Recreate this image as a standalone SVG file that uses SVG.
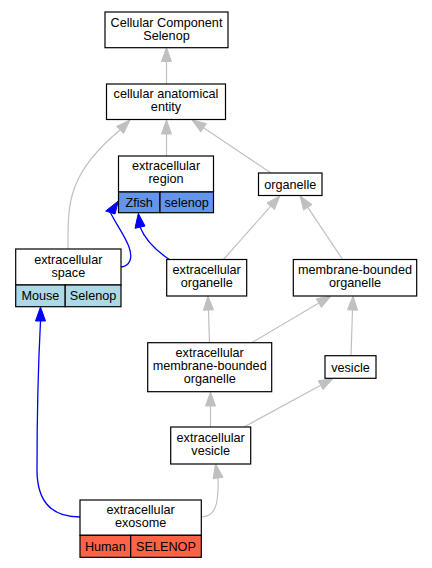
<svg xmlns="http://www.w3.org/2000/svg" width="432" height="568" viewBox="0 0 432 568">
<style>
.n{fill:#fff;stroke:#000;stroke-width:1.2}
.t{font-family:"Liberation Sans",Arial,sans-serif;font-size:12.67px;text-anchor:middle;fill:#000}
.g{fill:none;stroke:#c0c0c0;stroke-width:1.2}
.ga{fill:#c0c0c0;stroke:#c0c0c0;stroke-width:1}
.b{fill:none;stroke:#0000ff;stroke-width:1.3}
.ba{fill:#0000ff;stroke:#0000ff;stroke-width:1}
.zf{fill:#6495ed;stroke:#000;stroke-width:1.2}
.ms{fill:#add8e6;stroke:#000;stroke-width:1.2}
.hu{fill:#ff6347;stroke:#000;stroke-width:1.2}
</style>
<rect width="432" height="568" fill="#fff"/>
<g id="edges">
<path class="g" d="M166.5,84 L166.5,61.5"/>
<polygon class="ga" points="166.5,47.5 161.5,61.5 171.5,61.5"/>
<path class="g" d="M166.5,156 L166.5,134"/>
<polygon class="ga" points="166.5,120 161.5,134 171.5,134"/>
<path class="g" d="M68,249 C68,205 66,175 120,130"/>
<polygon class="ga" points="130,120 116.6,126.4 123.6,133.4"/>
<path class="g" d="M271,173 L203.6,127.8"/>
<polygon class="ga" points="192,120 206.4,123.6 200.8,132"/>
<path class="g" d="M223,260 L270.7,206.2"/>
<polygon class="ga" points="280,195.7 274.4,209.5 267,202.9"/>
<path class="g" d="M343,260 L307.8,207.3"/>
<polygon class="ga" points="300,195.7 312,204.5 303.6,210.1"/>
<path class="g" d="M209.5,342.5 L208.45,310"/>
<polygon class="ga" points="208,296 213.45,309.8 203.45,310.2"/>
<path class="g" d="M252,342.5 L318.9,303.1"/>
<polygon class="ga" points="331,296 321.4,307.4 316.4,298.8"/>
<path class="g" d="M351,355.5 L352.5,310"/>
<polygon class="ga" points="353,296 357.5,310.2 347.5,309.8"/>
<path class="g" d="M210.5,427 L210.5,406"/>
<polygon class="ga" points="210.5,392 205.5,406 215.5,406"/>
<path class="g" d="M244,427 L320.7,385.2"/>
<polygon class="ga" points="333,378.5 323.1,389.6 318.3,380.8"/>
<path class="g" d="M201,517 C215,517 219,505 218,478"/>
<polygon class="ga" points="215.5,463.5 222.9,477.2 213.1,478.8"/>
<path class="b" d="M80,517 C50,517 37,500 37,470 C37,420 39,350 40.5,321"/>
<polygon class="ba" points="40.5,307 35.5,321 45.5,321"/>
<path class="b" d="M121,267 C130,266 133,258 129,247 C125,236 116,224 110.4,212.5"/>
<polygon class="ba" points="118.3,201 105.7,211 115,214"/>
<path class="b" d="M170,260 C158,252 146,242 140,227"/>
<polygon class="ba" points="138.3,213.3 135,228.3 145,226"/>
</g>
<g id="cellular_component_selenop">
<rect class="n" x="105" y="12" width="123" height="35.7"/>
<text class="t" x="166.5" y="26.5">Cellular Component</text>
<text class="t" x="166.5" y="39.5">Selenop</text>
</g>
<g id="cellular_anatomical_entity">
<rect class="n" x="106.5" y="84" width="119" height="35.5"/>
<text class="t" x="166" y="98.3">cellular anatomical</text>
<text class="t" x="166" y="111.3">entity</text>
</g>
<g id="extracellular_region">
<rect class="n" x="118.5" y="156" width="95" height="36"/>
<rect class="zf" x="118.5" y="192" width="41.5" height="20.7"/>
<rect class="zf" x="160" y="192" width="53.5" height="20.7"/>
<text class="t" x="166" y="170.3">extracellular</text>
<text class="t" x="166" y="183.3">region</text>
<text class="t" x="139.2" y="206.5">Zfish</text>
<text class="t" x="186.7" y="206.5">selenop</text>
</g>
<g id="organelle">
<rect class="n" x="258.5" y="173" width="63.5" height="22.5"/>
<text class="t" x="290.2" y="188.7">organelle</text>
</g>
<g id="extracellular_space">
<rect class="n" x="15.7" y="249" width="105.3" height="36"/>
<rect class="ms" x="15.7" y="285" width="49.5" height="21.7"/>
<rect class="ms" x="65.2" y="285" width="55.8" height="21.7"/>
<text class="t" x="68.3" y="263.5">extracellular</text>
<text class="t" x="68.3" y="276.5">space</text>
<text class="t" x="40.4" y="300.3">Mouse</text>
<text class="t" x="93.1" y="300.3">Selenop</text>
</g>
<g id="extracellular_organelle">
<rect class="n" x="166.7" y="259.5" width="80" height="36.5"/>
<text class="t" x="206.7" y="274">extracellular</text>
<text class="t" x="206.7" y="287">organelle</text>
</g>
<g id="membrane_bounded_organelle">
<rect class="n" x="293.3" y="259.5" width="123.4" height="36.5"/>
<text class="t" x="355" y="274">membrane-bounded</text>
<text class="t" x="355" y="287">organelle</text>
</g>
<g id="extracellular_membrane_bounded_organelle">
<rect class="n" x="147.7" y="342.7" width="124" height="49"/>
<text class="t" x="209.7" y="356.8">extracellular</text>
<text class="t" x="209.7" y="369.8">membrane-bounded</text>
<text class="t" x="209.7" y="382.8">organelle</text>
</g>
<g id="vesicle">
<rect class="n" x="325" y="355.7" width="51" height="22.6"/>
<text class="t" x="350.5" y="371.5">vesicle</text>
</g>
<g id="extracellular_vesicle">
<rect class="n" x="170.7" y="427" width="80" height="37"/>
<text class="t" x="210.7" y="441.8">extracellular</text>
<text class="t" x="210.7" y="454.8">vesicle</text>
</g>
<g id="extracellular_exosome">
<rect class="n" x="80" y="500" width="121.3" height="35.3"/>
<rect class="hu" x="80" y="535.3" width="50.7" height="22"/>
<rect class="hu" x="130.7" y="535.3" width="70.6" height="22"/>
<text class="t" x="140.6" y="514">extracellular</text>
<text class="t" x="140.6" y="527">exosome</text>
<text class="t" x="105.3" y="550.8">Human</text>
<text class="t" x="166" y="550.8">SELENOP</text>
</g>
</svg>
